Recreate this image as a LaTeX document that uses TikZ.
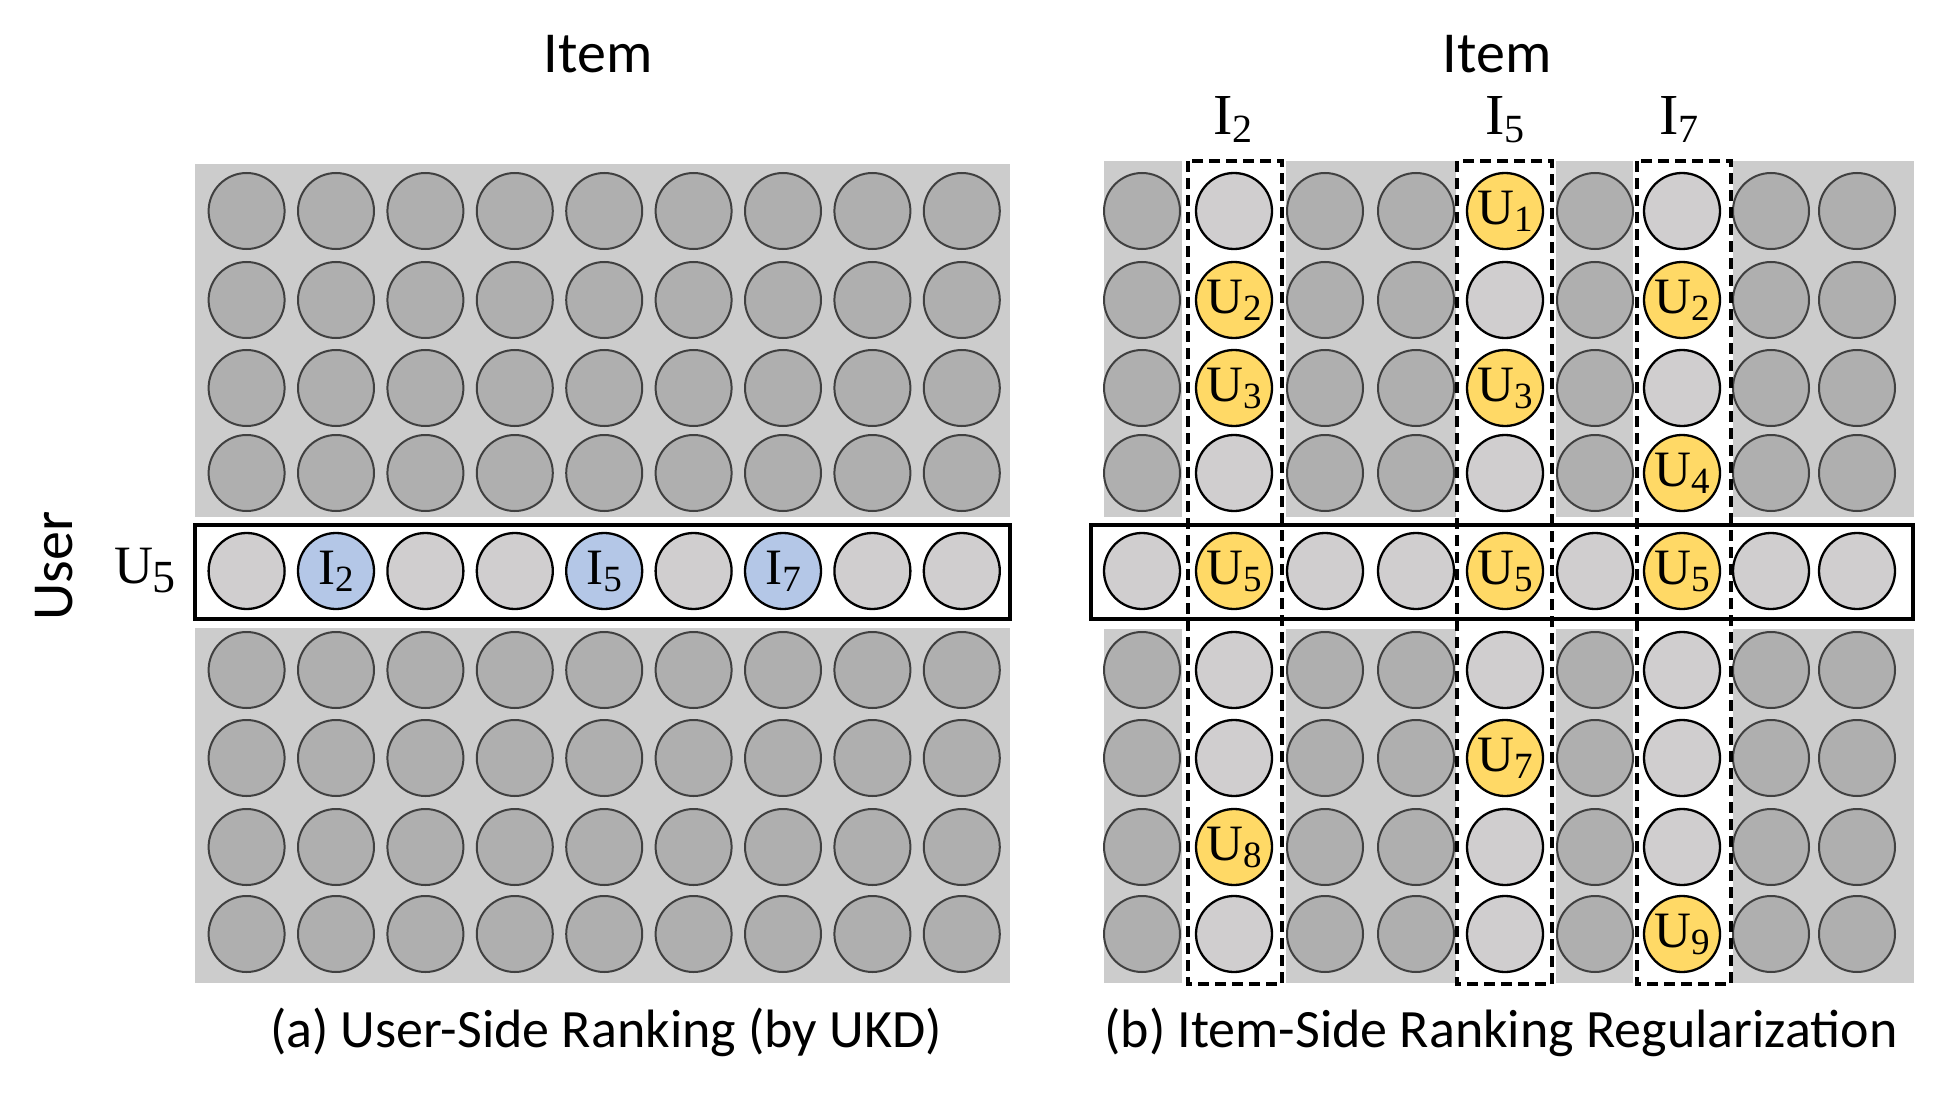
\documentclass[tikz,border=0pt]{standalone}
\usepackage{fontspec}
\setmainfont{Liberation Serif}
\newfontfamily\carlito{Carlito}
\definecolor{bgc}{HTML}{CCCCCC}
\definecolor{darkc}{HTML}{AFAFAF}
\definecolor{lightc}{HTML}{D0CECF}
\definecolor{yelc}{HTML}{FFD966}
\definecolor{bluc}{HTML}{B4C7E7}
\newcommand{\circfont}{\fontsize{51}{51}\selectfont}
\newcommand{\lsub}[1]{\raisebox{-7pt}{\fontsize{37}{37}\selectfont #1}}
\newcommand{\hsub}[1]{\raisebox{-8pt}{\fontsize{40}{40}\selectfont #1}}
\newcommand{\bsub}[1]{\raisebox{-9pt}{\fontsize{46}{46}\selectfont #1}}
\tikzset{
  dark/.style={circle, minimum size=76pt, inner sep=0pt, draw=black!75, fill=darkc, line width=2pt},
  light/.style={circle, minimum size=76pt, inner sep=0pt, draw=black, fill=lightc, line width=2.3pt},
  yel/.style={light, fill=yelc, font=\circfont},
  blu/.style={light, fill=bluc, font=\circfont},
  sanslab/.style={font=\carlito\fontsize{58}{58}\selectfont},
  caption/.style={font=\carlito\fontsize{54}{54}\selectfont, anchor=base},
  headlab/.style={font=\fontsize{58}{58}\selectfont, anchor=base},
  rowbox/.style={draw=black, line width=4pt},
  colbox/.style={draw=black, line width=3.5pt, dash pattern=on 11pt off 6pt},
}
\begin{document}
\begin{tikzpicture}[x=1pt,y=-1pt]
\useasboundingbox (0,0) rectangle (1933,1094);
\fill[white] (0,0) rectangle (1933,1094);
\def\rowys{{211,300,388,473,571,670,758,847,934}}
% ---------- left panel ----------
\fill[bgc] (195,164) rectangle (1010,517);
\fill[bgc] (195,628) rectangle (1010,983);
\draw[rowbox] (195,525) rectangle (1010,619);
\foreach \r in {1,2,3,4,6,7,8,9}{
  \foreach \c in {1,...,9}{
    \pgfmathsetmacro{\yy}{\rowys[\r-1]}
    \node[dark] (L-\r-\c) at ({246.6+(\c-1)*89.4},\yy) {};
  }
}
\foreach \c in {1,3,4,6,8,9}{
  \node[light] (L-5-\c) at ({246.6+(\c-1)*89.4},571) {};
}
\foreach \c/\t in {2/2,5/5,7/7}{
  \node[blu] (L-5-\c) at ({246.6+(\c-1)*89.4},571) {I\lsub{\t}};
}
% ---------- right panel ----------
\foreach \a/\b in {1104/1182,1286/1456,1556/1633,1733/1914}{
  \fill[bgc] (\a,161) rectangle (\b,517);
  \fill[bgc] (\a,629) rectangle (\b,983);
}
\draw[rowbox] (1091,525) rectangle (1913,619);
\foreach \c/\x in {1/1142,3/1325,4/1416,6/1595,8/1771,9/1857}{
  \foreach \r in {1,2,3,4,6,7,8,9}{
    \pgfmathsetmacro{\yy}{\rowys[\r-1]}
    \node[dark] (R-\r-\c) at (\x,\yy) {};
  }
  \node[light] (R-5-\c) at (\x,571) {};
}
\foreach \c/\x/\ls in {2/1234/{1,4,6,7,9},5/1505/{2,4,6,8,9},7/1682/{1,3,6,7,8}}{
  \foreach \r in \ls{
    \pgfmathsetmacro{\yy}{\rowys[\r-1]}
    \node[light] (R-\r-\c) at (\x,\yy) {};
  }
}
\foreach \c/\x/\r/\t in {2/1234/2/2,2/1234/3/3,2/1234/5/5,2/1234/8/8,
                         5/1505/1/1,5/1505/3/3,5/1505/5/5,5/1505/7/7,
                         7/1682/2/2,7/1682/4/4,7/1682/5/5,7/1682/9/9}{
  \pgfmathsetmacro{\yy}{\rowys[\r-1]}
  \node[yel] (R-\r-\c) at (\x,\yy) {U\lsub{\t}};
}
\foreach \a/\b in {1188/1282,1457/1552,1637/1731}{
  \draw[colbox] (\a,161) rectangle (\b,984);
}
% ---------- labels ----------
\node[sanslab, anchor=base] (itemL) at (598,73) {Item};
\node[sanslab, anchor=base] (itemR) at (1497,73) {Item};
\node[headlab] (hI2) at (1233,135) {I\hsub{2}};
\node[headlab] (hI5) at (1505,135) {I\hsub{5}};
\node[headlab] (hI7) at (1679,135) {I\hsub{7}};
\node[font=\fontsize{54}{54}\selectfont, anchor=base] (u5lab) at (145,583) {U\bsub{5}};
\node[sanslab, rotate=90] (user) at (54,566) {User};
\node[caption] (capA) at (606,1047) {(a) User-Side Ranking (by UKD)};
\node[caption] (capB) at (1501,1047) {(b) Item-Side Ranking Regularization};
\end{tikzpicture}
\end{document}
